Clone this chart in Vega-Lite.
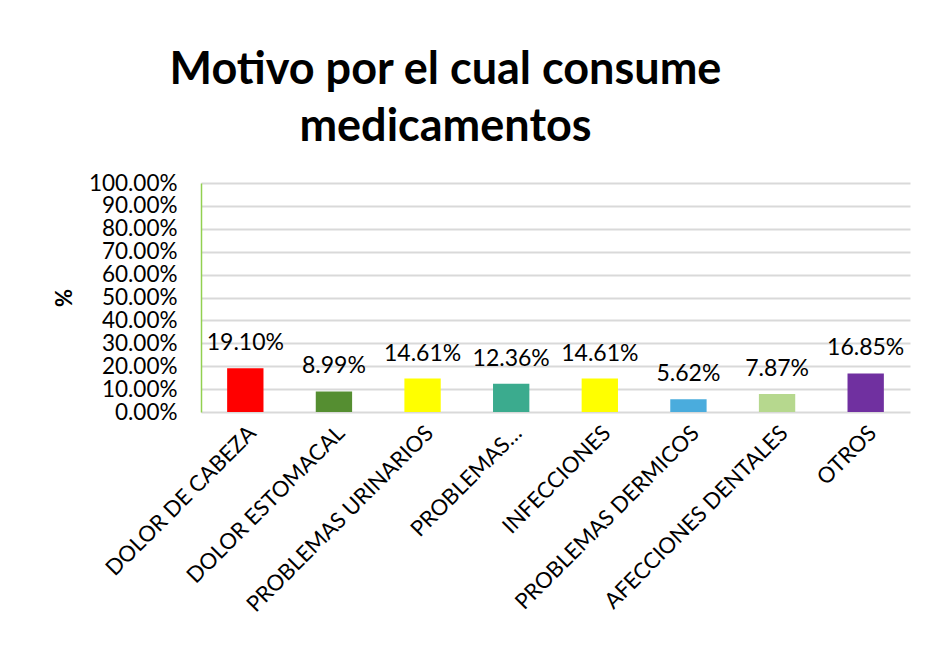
{
  "$schema": "https://vega.github.io/schema/vega-lite/v6.json",
  "autosize": {"type": "none"},
  "width": 709,
  "height": 229,
  "padding": {"left": 201, "top": 183, "right": 15, "bottom": 238},
  "background": "white",
  "title": {
    "text": ["Motivo por el cual consume", "medicamentos"],
    "font": "Lato",
    "fontWeight": "bold",
    "fontSize": 45,
    "lineHeight": 57,
    "color": "#000000",
    "anchor": "middle",
    "frame": "group",
    "dx": -110,
    "offset": 22
  },
  "data": {
    "values": [
      {"motivo": "DOLOR DE CABEZA", "pct": 0.1910},
      {"motivo": "DOLOR ESTOMACAL", "pct": 0.0899},
      {"motivo": "PROBLEMAS URINARIOS", "pct": 0.1461},
      {"motivo": "PROBLEMAS…", "pct": 0.1236},
      {"motivo": "INFECCIONES", "pct": 0.1461},
      {"motivo": "PROBLEMAS DERMICOS", "pct": 0.0562},
      {"motivo": "AFECCIONES DENTALES", "pct": 0.0787},
      {"motivo": "OTROS", "pct": 0.1685}
    ]
  },
  "encoding": {
    "x": {
      "field": "motivo",
      "type": "nominal",
      "sort": null,
      "scale": {"paddingInner": 0.59, "paddingOuter": 0.295},
      "axis": {
        "title": null,
        "labelAngle": -45,
        "labelFont": "Lato",
        "labelFontSize": 22,
        "labelColor": "#000000",
        "labelPadding": 10,
        "ticks": false,
        "domain": false,
        "labelLimit": 400
      }
    },
    "y": {
      "field": "pct",
      "type": "quantitative",
      "scale": {"domain": [0, 1]},
      "axis": {
        "title": "%",
        "titleFont": "Lato",
        "titleFontSize": 22,
        "titleFontWeight": "bold",
        "titleColor": "#000000",
        "titlePadding": 12,
        "format": ".2%",
        "values": [0, 0.1, 0.2, 0.3, 0.4, 0.5, 0.6, 0.7, 0.8, 0.9, 1],
        "labelFont": "Lato",
        "labelFontSize": 22.5,
        "labelColor": "#000000",
        "labelPadding": 24,
        "ticks": false,
        "domainColor": "#92D050",
        "domainWidth": 1.5,
        "gridColor": "#D9D9D9",
        "gridWidth": 2,
        "labelOverlap": false
      }
    }
  },
  "layer": [
    {
      "mark": {"type": "bar"},
      "encoding": {
        "color": {
          "field": "motivo",
          "type": "nominal",
          "legend": null,
          "scale": {
            "domain": ["DOLOR DE CABEZA", "DOLOR ESTOMACAL", "PROBLEMAS URINARIOS", "PROBLEMAS…", "INFECCIONES", "PROBLEMAS DERMICOS", "AFECCIONES DENTALES", "OTROS"],
            "range": ["#FF0000", "#558E31", "#FFFF00", "#3BAB8E", "#FFFF00", "#4AACDD", "#B6D88E", "#7030A0"]
          }
        }
      }
    },
    {
      "mark": {"type": "text", "font": "Lato", "fontSize": 23, "color": "#000000", "baseline": "alphabetic", "dy": -18},
      "encoding": {
        "text": {"field": "pct", "type": "quantitative", "format": ".2%"}
      }
    }
  ],
  "config": {"view": {"stroke": null}}
}
